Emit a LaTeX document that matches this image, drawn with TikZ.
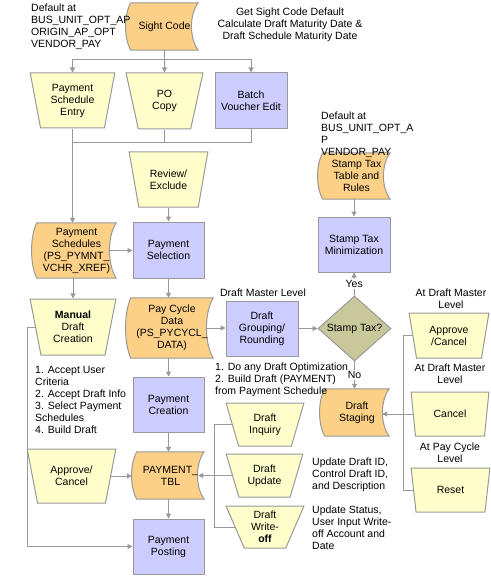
\documentclass[tikz,border=0pt]{standalone}
\usepackage{fontspec}
\setmainfont{Liberation Sans}
\usetikzlibrary{shapes.geometric,arrows.meta,calc,backgrounds}
\definecolor{lgray}{HTML}{999999}
\definecolor{orng}{HTML}{FCD086}
\definecolor{lav}{HTML}{CCCCFF}
\definecolor{ylw}{HTML}{FFFFCC}
\definecolor{olv}{HTML}{C9C89A}
\newcommand\storedpath[1]{%
  \path[storedshape] (#1.north west)
    .. controls ($(#1.north west)!0.25!(#1.south west)+(-7,0)$) and ($(#1.north west)!0.75!(#1.south west)+(-7,0)$) .. (#1.south west)
    -- (#1.south east)
    .. controls ($(#1.south east)!0.25!(#1.north east)+(-9,0)$) and ($(#1.south east)!0.75!(#1.north east)+(-9,0)$) .. (#1.north east)
    -- cycle;}
\begin{document}
\begin{tikzpicture}[x=1bp,y=-1bp,
  font=\fontsize{10.5bp}{12bp}\selectfont,
  every node/.style={inner sep=0pt},
  proc/.style={draw=lgray, line width=1bp, fill=lav, align=center},
  manual/.style={trapezium, shape border rotate=180, trapezium stretches=true, draw=lgray, fill=ylw, line width=1bp, align=center},
  stored/.style={align=center},
  dec/.style={diamond, draw=lgray, fill=olv, line width=1bp},
  conn/.style={draw=lgray, line width=1bp},
  arr/.style={conn, -{Triangle[length=5bp,width=5bp]}},
  lbl/.style={align=left},
  storedshape/.style={draw=lgray, fill=orng, line width=1bp}]
\useasboundingbox (0,0) rectangle (491,577);
% nodes
\node[stored, minimum width=67bp, minimum height=47bp] (sight) at (164.5,26.5) {Sight Code};
\node[manual, minimum width=85bp, minimum height=55bp, trapezium angle=78] (pse) at (72.5,100.5) {Payment\\Schedule\\Entry};
\node[manual, minimum width=77bp, minimum height=56bp, trapezium angle=75] (poc) at (164.5,101) {PO\\Copy};
\node[proc, minimum width=72bp, minimum height=56bp] (batch) at (251,101) {Batch\\Voucher Edit};
\node[manual, minimum width=79bp, minimum height=55bp, trapezium angle=73] (rev) at (168.5,179.5) {Review/\\Exclude};
\node[stored, minimum width=79bp, minimum height=55bp] (pschd) at (76.5,250.5) {Payment\\Schedules\\(PS\_PYMNT\_\\VCHR\_XREF)};
\node[proc, minimum width=71bp, minimum height=56bp] (psel) at (168.5,250) {Payment\\Selection};
\node[manual, minimum width=86bp, minimum height=56bp, trapezium angle=78] (mdc) at (73,327) {{\bfseries Manual}\\Draft\\Creation};
\node[stored, minimum width=82bp, minimum height=60bp] (pcd) at (172,328) {Pay Cycle\\Data\\(PS\_PYCYCL\_\\DATA)};
\node[proc, minimum width=72bp, minimum height=55bp] (dgr) at (262,328.5) {Draft\\Grouping/\\Rounding};
\node[dec, minimum width=73bp, minimum height=55bp] (stx) at (354.5,328.5) {Stamp Tax?};
\node[proc, minimum width=72bp, minimum height=55bp] (stm) at (354,244.5) {Stamp Tax\\Minimization};
\node[stored, minimum width=67bp, minimum height=46bp] (stt) at (356.5,176) {Stamp Tax\\Table and\\Rules};
\node[stored, minimum width=64bp, minimum height=47bp] (stg) at (357,412.5) {Draft\\Staging};
\node[proc, minimum width=71bp, minimum height=55bp] (pcr) at (168.5,404.5) {Payment\\Creation};
\node[stored, minimum width=67bp, minimum height=47bp] (ptb) at (170.5,475.5) {PAYMENT\_\\TBL};
\node[proc, minimum width=71bp, minimum height=55bp] (ppo) at (168.5,546.5) {Payment\\Posting};
\node[manual, minimum width=89bp, minimum height=54bp, trapezium angle=72] (acl) at (71.5,476) {Approve/\\Cancel};
\node[manual, minimum width=78bp, minimum height=43bp, trapezium angle=71] (dinq) at (265,424.5) {Draft\\Inquiry};
\node[manual, minimum width=77bp, minimum height=43bp, trapezium angle=69] (dupd) at (264.5,475.5) {Draft\\Update};
\node[manual, minimum width=78bp, minimum height=42bp, trapezium angle=69] (dwo) at (265,527) {Draft\\Write-\\{\bfseries off}};
\node[manual, minimum width=80bp, minimum height=45bp, trapezium angle=77] (acr) at (449,335.5) {Approve\\/Cancel};
\node[manual, minimum width=78bp, minimum height=44bp, trapezium angle=75] (canr) at (450,414) {Cancel};
\node[manual, minimum width=79bp, minimum height=44bp, trapezium angle=75] (rst) at (450.5,490) {Reset};
% stored data shapes
\begin{scope}[on background layer]
  \storedpath{sight}
  \storedpath{pschd}
  \storedpath{pcd}
  \storedpath{stt}
  \storedpath{stg}
  \storedpath{ptb}
\end{scope}
% labels
\node[lbl, anchor=north west] (t1) at (31,4) {Default at\\BUS\_UNIT\_OPT\_AP\\ORIGIN\_AP\_OPT\\VENDOR\_PAY};
\node[align=center, anchor=north] (t2) at (290,8) {Get Sight Code Default\\Calculate Draft Maturity Date \&\\Draft Schedule Maturity Date};
\node[lbl, anchor=north west] (t3) at (321,112) {Default at\\BUS\_UNIT\_OPT\_A\\P\\VENDOR\_PAY};
\node[anchor=base] (t4) at (263,296) {Draft Master Level};
\node[lbl, anchor=north west] (t5) at (215,363) {1. Do any Draft Optimization\\2. Build Draft (PAYMENT)\\from Payment Schedule};
\node[lbl, anchor=north west] (t6) at (35,366) {1. Accept User\\Criteria\\2. Accept Draft Info\\3. Select Payment\\Schedules\\4. Build Draft};
\node[align=center, anchor=north] (t7) at (451,289) {At Draft Master\\Level};
\node[align=center, anchor=north] (t8) at (450,364) {At Draft Master\\Level};
\node[align=center, anchor=north] (t9) at (450,443) {At Pay Cycle\\Level};
\node[lbl, anchor=north west] (t10) at (312,458) {Update Draft ID,\\Control Draft ID,\\and Description};
\node[lbl, anchor=north west] (t11) at (312,506) {Update Status,\\User Input Write-\\off Account and\\Date};
% connectors
\coordinate (j1) at (164.5,60);
\draw[conn] (sight.south) -- (j1);
\draw[arr] (j1) -| (pse.north);
\draw[arr] (j1) -| (batch.north);
\draw[arr] (j1) -- (poc.north);
\coordinate (j2) at (0,143);
\draw[conn] (pse.south) -- (pse.south |- j2) -- (batch.south |- j2) -- (batch.south);
\draw[conn] (poc.south) -- (poc.south |- j2);
\draw[arr] (pse.south |- j2) -- (pse.south |- pschd.north);
\draw[arr] (rev.south) -- (psel.north);
\draw[arr] ($(pschd.east)+(-7,0)$) -- (psel.west |- pschd.east);
\draw[arr] (mdc.north |- pschd.south) -- (mdc.north);
\draw[arr] (psel.south) -- (psel.south |- pcd.north);
\draw[arr] ($(pcd.east)+(-7,0)$) -- (dgr.west |- pcd.east);
\draw[arr] (dgr.east) -- (stx.west);
\draw[arr] (stx.north) -- node[fill=white, inner sep=1bp] {Yes} (stm.south);
\draw[arr] (stm.north |- stt.south) -- (stm.north);
\draw[arr] (stx.south) -- node[fill=white, inner sep=1bp] {No} (stx.south |- stg.north);
\draw[arr] (canr.west) -- ($(canr.west -| stg.east)+(-7,0)$);
\coordinate (rb) at (403,0);
\draw[conn] (acr.west) -| (rb |- rst.west) -- (rst.west);
\coordinate (lb2) at (214,0);
\draw[conn] (dinq.west) -| (lb2 |- dwo.west) -- (dwo.west);
\draw[arr] (dupd.west) -- ($(dupd.west -| ptb.east)+(-6,0)$);
\draw[arr] (pcr.north |- pcd.south) -- (pcr.north);
\draw[arr] (pcr.south) -- (pcr.south |- ptb.north);
\draw[arr] (ppo.north |- ptb.south) -- (ppo.north);
\draw[arr] (acl.east) -- ($(acl.east -| ptb.west)+(-5,0)$);
\coordinate (lb1) at (27,0);
\draw[arr] (mdc.west) -| (lb1 |- ppo.west) -- (ppo.west);
\end{tikzpicture}
\end{document}
